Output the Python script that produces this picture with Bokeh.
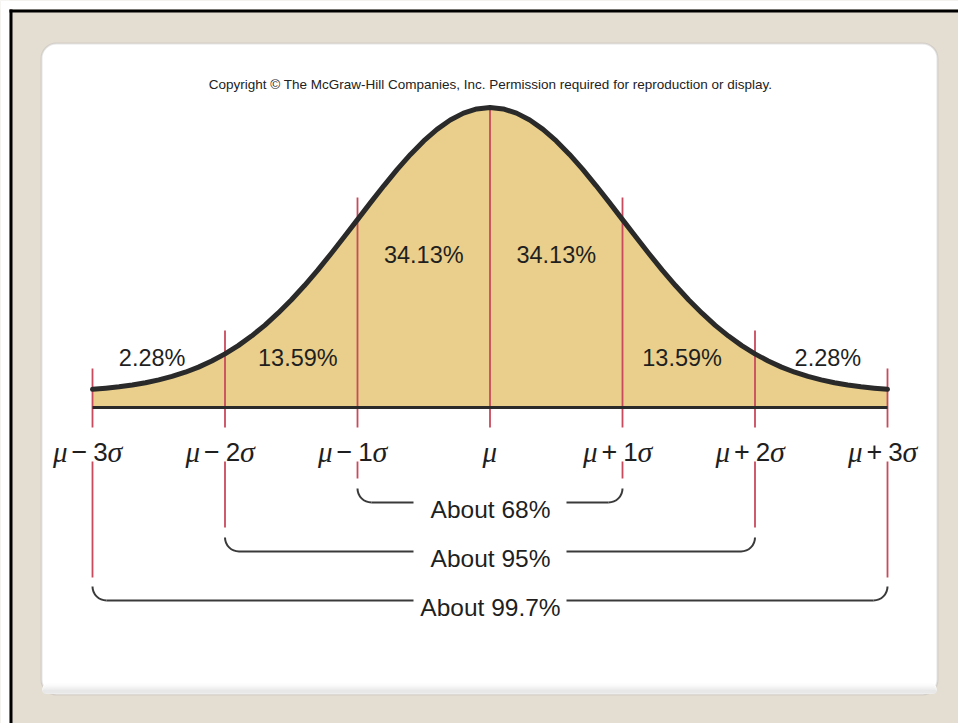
import math
from bokeh.plotting import figure
from bokeh.models import Range1d, BoxAnnotation
from bokeh.core.properties import value
from bokeh.embed import file_html
from bokeh.resources import INLINE

# ---------------- data ----------------
# curve: x in sigma units, height in density units (peak ~0.399)
curve_z = [round(-3.0 + 0.1 * i, 1) for i in range(61)]
curve_h = [0.0242, 0.0257, 0.0275, 0.0299, 0.0329, 0.0367, 0.0413, 0.0469, 0.0537, 0.0618,
           0.0713, 0.0823, 0.0950, 0.1093, 0.1254, 0.1430, 0.1622, 0.1828, 0.2045, 0.2270,
           0.2499, 0.2728, 0.2952, 0.3166, 0.3366, 0.3545, 0.3699, 0.3823, 0.3915, 0.3971,
           0.3990,
           0.3971, 0.3915, 0.3823, 0.3699, 0.3545, 0.3366, 0.3166, 0.2952, 0.2728, 0.2499,
           0.2270, 0.2045, 0.1828, 0.1622, 0.1430, 0.1254, 0.1093, 0.0950, 0.0823, 0.0713,
           0.0618, 0.0537, 0.0469, 0.0413, 0.0367, 0.0329, 0.0299, 0.0275, 0.0257, 0.0242]

tick_z = [-3, -2, -1, 0, 1, 2, 3]
tick_op = ["−", "−", "−", "", "+", "+", "+"]
tick_k = ["3", "2", "1", "", "1", "2", "3"]
tick_sigma = ["σ", "σ", "σ", "", "σ", "σ", "σ"]
guide_top = [0.0519, 0.1024, 0.2793, 0.3990, 0.2793, 0.1024, 0.0519]

pct_labels = ["2.28%", "13.59%", "34.13%", "34.13%", "13.59%", "2.28%"]
pct_x = [-2.55, -1.45, -0.50, 0.50, 1.45, 2.55]
pct_y = [0.0652, 0.0652, 0.2022, 0.2022, 0.0652, 0.0652]

range_k = [1, 2, 3]
range_labels = ["About 68%", "About 95%", "About 99.7%"]

copyright_text = "Copyright © The McGraw-Hill Companies, Inc. Permission required for reproduction or display."

# ---------------- layout helpers (page pixels -> data) ----------------
SX, CX = 132.5, 489.5      # px per sigma, page x of mean
SY, BY = 751.88, 407.0     # px per density unit, page y of baseline


def X(px):
    return (px - CX) / SX


def Y(py):
    return (BY - py) / SY


BEIGE = "#e4ddd2"
TXT = "#1f1f1f"
RED = "#c94a5c"
DARK = "#2a2a2a"
FILL = "#e9cf8b"
SANS = "Liberation Sans"
SERIF = "Liberation Serif"

W, H = 958, 723
p = figure(width=W, height=H,
           x_range=Range1d(start=X(0), end=X(W)),
           y_range=Range1d(start=Y(H), end=Y(0)),
           x_axis_type=None, y_axis_type=None,
           toolbar_location=None, output_backend="svg",
           min_border=0, background_fill_color=BEIGE,
           border_fill_color=BEIGE, outline_line_color=None)

# frame: white page margin strip + black top/left border
p.quad(left=[X(0), X(0)], right=[X(9), X(W)], top=[Y(0), Y(0)],
       bottom=[Y(H), Y(9)], color="white", line_width=0)
p.quad(left=[X(9), X(9)], right=[X(W), X(12)], top=[Y(9), Y(9)],
       bottom=[Y(12), Y(H)], color="black", line_width=0)

# white rounded panel
p.add_layout(BoxAnnotation(left=X(41), right=X(937), top=Y(43), bottom=Y(694),
                           fill_color="white", fill_alpha=1.0,
                           line_color="#a8a8a8", line_width=2,
                           border_radius=15, level="underlay"))
# soft shadow at panel bottom
for i, c in enumerate(["#fcfcfc", "#f7f7f7", "#f0f0f0", "#e8e8e8"]):
    p.add_layout(BoxAnnotation(left=X(42), right=X(936), top=Y(683 + 2 * i), bottom=Y(693),
                               fill_color=c, fill_alpha=1.0, line_color=None,
                               border_radius=14, level="underlay"))

# area under curve
p.varea(x=curve_z, y1=[0] * len(curve_z), y2=curve_h, fill_color=FILL)

# red guide lines through curve area
p.segment(x0=tick_z, y0=[Y(427)] * 7, x1=tick_z, y1=guide_top,
          line_color=RED, line_width=1.8)

# red guide lines below labels
low_end = {1: Y(478), 2: Y(527), 3: Y(577)}
lx, ly0, ly1 = [], [], []
for k in range_k:
    for s in (-1, 1):
        lx.append(s * k)
        ly0.append(Y(461))
        ly1.append(low_end[k])
p.segment(x0=lx, y0=ly0, x1=lx, y1=ly1, line_color=RED, line_width=1.8)

# the curve and baseline
p.line(curve_z, curve_h, line_color=DARK, line_width=5, line_join="round", line_cap="round")
p.segment(x0=[tick_z[0]], y0=[0], x1=[tick_z[-1]], y1=[0], line_color=DARK, line_width=3)

# brackets
R = 14
line_py = {1: 502, 2: 551, 3: 600}
text_py = {1: 509, 2: 558, 3: 607}
hx0, hy0, hx1 = [], [], []
ax, ay, a0, a1 = [], [], [], []
for k in range_k:
    yl = Y(line_py[k])
    hx0 += [-k + R / SX, X(566)]
    hx1 += [X(413), k - R / SX]
    hy0 += [yl, yl]
    ax += [-k + R / SX, k - R / SX]
    ay += [yl + R / SY, yl + R / SY]
    a0 += [math.pi, 1.5 * math.pi]
    a1 += [1.5 * math.pi, 2 * math.pi]
p.segment(x0=hx0, y0=hy0, x1=hx1, y1=hy0, line_color="#3a3a3a", line_width=2)
p.arc(x=ax, y=ay, radius=R, radius_units="screen", start_angle=a0, end_angle=a1,
      line_color="#3a3a3a", line_width=2)
p.text(x=[X(490)] * 3, y=[Y(text_py[k]) for k in range_k], text=range_labels,
       text_font=value(SANS), text_font_size="24.5px", text_color=TXT,
       text_align="center", text_baseline="alphabetic")

# percentage labels
p.text(x=pct_x, y=pct_y, text=pct_labels, text_font=value(SANS),
       text_font_size="23.5px", text_color=TXT, text_align="center",
       text_baseline="alphabetic")

# tick labels  (mu [op k] sigma)
ty = [Y(451)] * 7
p.text(x=tick_z, y=ty, text=["μ"] * 7, x_offset=[-25, -25, -25, 7, -25, -25, -25],
       text_font=value(SERIF), text_font_style="italic", text_font_size="29px",
       text_color=TXT, text_align="right", text_baseline="alphabetic")
p.text(x=tick_z, y=ty, text=tick_op, x_offset=-13, text_font=value(SANS),
       text_font_size="27px", text_color=TXT, text_align="center",
       text_baseline="alphabetic")
p.text(x=tick_z, y=ty, text=tick_k, x_offset=8, text_font=value(SANS),
       text_font_size="26px", text_color=TXT, text_align="center",
       text_baseline="alphabetic")
p.text(x=tick_z, y=ty, text=tick_sigma, x_offset=15, text_font=value(SERIF),
       text_font_style="italic", text_font_size="30px", text_color=TXT,
       text_align="left", text_baseline="alphabetic")

# copyright line
p.text(x=[X(490)], y=[Y(84)], text=[copyright_text], text_font=value(SANS),
       text_font_size="13.5px", text_color="#222222", text_align="center",
       text_baseline="alphabetic")

open("out.html", "w").write(file_html(p, INLINE))
